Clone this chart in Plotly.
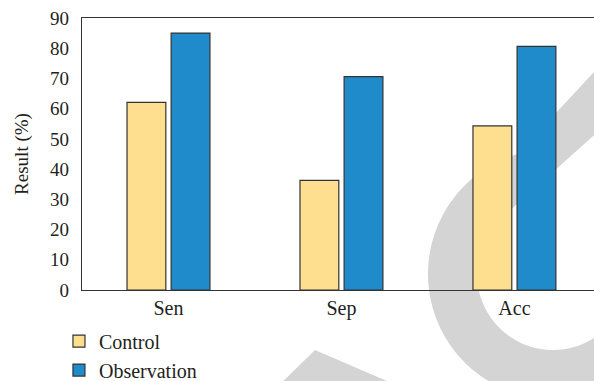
import numpy as np
import plotly.graph_objects as go

# ---- data -------------------------------------------------------------
categories = ["Sen", "Sep", "Acc"]
control = [62.1, 36.3, 54.3]
observation = [85.0, 70.6, 80.6]
series_names = ["Control", "Observation"]
y_tick_values = [0, 10, 20, 30, 40, 50, 60, 70, 80, 90]

# ---- styling ----------------------------------------------------------
FONT = "Liberation Serif, DejaVu Serif, serif"
TEXT_COLOR = "#231f20"
CONTROL_COLOR = "#fedf8f"
OBSERVATION_COLOR = "#1f8bcb"
EDGE_COLOR = "#333333"
MARK_GREY = "#d4d4d4"

FIG_W, FIG_H = 594, 381
M_L, M_R, M_T, M_B = 82, 0, 18, 91
PW, PH = FIG_W - M_L - M_R, FIG_H - M_T - M_B


def to_paper(px, py):
    """Pixel position on the page -> paper coordinates."""
    return (px - M_L) / PW, (M_T + PH - py) / PH


def path_from_pixels(points):
    pts = [to_paper(x, y) for x, y in points]
    d = "M " + " L ".join(f"{x:.5f},{y:.5f}" for x, y in pts) + " Z"
    return d


def arc(cx, cy, r, a0, a1, n=80):
    ang = np.radians(np.linspace(a0, a1, n))
    return list(zip(cx + r * np.cos(ang), cy + r * np.sin(ang)))


# background emblem: ring with a tail running to the upper right
cx, cy, R_out, R_in = 553.0, 274.0, 125.0, 76.0
up_slope, up_x0, up_y0 = 1.076, 594.0, 72.0      # upper tail edge
lo_slope, lo_x0, lo_y0 = 0.93, 594.0, 137.0      # lower tail edge


def up_y(x):
    return up_y0 + up_slope * (up_x0 - x)


def lo_y(x):
    return lo_y0 + lo_slope * (lo_x0 - x)


# where the upper tail edge meets the outer circle
xs = np.linspace(480, 594, 4000)
d = np.hypot(xs - cx, up_y(xs) - cy)
j_x = xs[np.argmin(np.abs(d - R_out) + (xs < 500) * 1e3)]
j_ang = np.degrees(np.arctan2(up_y(j_x) - cy, j_x - cx)) % 360

# tangent point of the lower tail edge on the inner circle
dirv = np.array([-1.0, lo_slope]) / np.hypot(1.0, lo_slope)
t = np.dot(np.array([cx - lo_x0, cy - lo_y0]), dirv)
tp = np.array([lo_x0, lo_y0]) + t * dirv
t_ang = np.degrees(np.arctan2(tp[1] - cy, tp[0] - cx)) % 360

far_x = 640.0
end_ang = np.degrees(np.arccos((far_x - cx) / R_out))

emblem = [(far_x, up_y(far_x)), (j_x, up_y(j_x))]
emblem += arc(cx, cy, R_out, j_ang, end_ang)
emblem += arc(cx, cy, R_in, 0.0, t_ang)
emblem += [(far_x, lo_y(far_x))]

stroke = [(264, 400), (315, 350), (431, 400)]

shapes = [
    dict(type="path", xref="paper", yref="paper", layer="below",
         path=path_from_pixels(emblem), fillcolor=MARK_GREY,
         line=dict(width=0)),
    dict(type="path", xref="paper", yref="paper", layer="below",
         path=path_from_pixels(stroke), fillcolor=MARK_GREY,
         line=dict(width=0)),
]

# ---- figure -----------------------------------------------------------
fig = go.Figure()
for name, values, color in zip(series_names, [control, observation],
                               [CONTROL_COLOR, OBSERVATION_COLOR]):
    fig.add_trace(go.Bar(
        x=categories, y=values, name=name,
        marker=dict(color=color, line=dict(color=EDGE_COLOR, width=1.2)),
    ))

fig.update_layout(
    width=FIG_W, height=FIG_H,
    margin=dict(l=M_L, r=M_R, t=M_T, b=M_B, pad=0, autoexpand=False),
    paper_bgcolor="white",
    plot_bgcolor="rgba(0,0,0,0)",
    font=dict(family=FONT, size=20, color=TEXT_COLOR),
    barmode="group",
    bargap=0.49,
    bargroupgap=0.12,
    shapes=shapes,
    showlegend=True,
    legend=dict(
        orientation="v", x=-0.045, xanchor="left",
        y=-0.116, yanchor="top",
        bgcolor="rgba(0,0,0,0)", borderwidth=0,
        font=dict(family=FONT, size=20, color=TEXT_COLOR),
        itemwidth=30, tracegroupgap=0,
    ),
    xaxis=dict(
        type="category", range=[-0.5, 2.46],
        showline=True, linecolor="#333333", linewidth=1.2, mirror=True,
        showgrid=False, ticks="", zeroline=False,
        tickfont=dict(family=FONT, size=20, color=TEXT_COLOR),
    ),
    yaxis=dict(
        range=[0, 90], tickvals=y_tick_values,
        showline=True, linecolor="#333333", linewidth=1.2, mirror=False,
        showgrid=False, ticks="", zeroline=False,
        ticklabelstandoff=8,
        tickfont=dict(family=FONT, size=19, color=TEXT_COLOR),
        title=dict(text="Result (%)", standoff=16,
                   font=dict(family=FONT, size=19, color=TEXT_COLOR)),
    ),
)

fig.write_html("out.html")
